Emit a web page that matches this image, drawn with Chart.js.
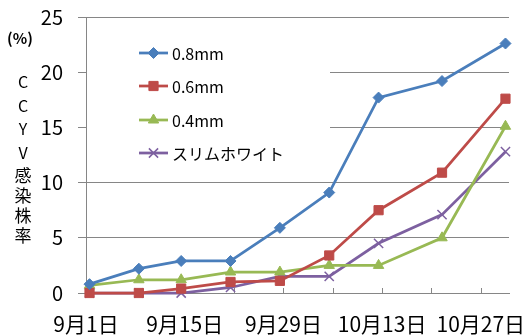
<!DOCTYPE html>
<html>
<head>
<meta charset="utf-8">
<script src="https://cdn.jsdelivr.net/npm/chart.js@4/dist/chart.umd.min.js"></script>
<style>
  html, body { margin: 0; padding: 0; background: #fff; }
  #wrap { width: 527px; height: 335px; }
</style>
</head>
<body>
<div id="wrap"><canvas id="c" width="527" height="335"></canvas></div>
<script>
// Survey dates (month-day) and CCYV infection rate (%) per film type
const surveyDates = ['09-01', '09-08', '09-14', '09-21', '09-28', '10-05', '10-12', '10-21', '10-30'];
const seriesNames = ['0.8mm', '0.6mm', '0.4mm', 'スリムホワイト'];
const rate08   = [0.8, 2.2, 2.9, 2.9, 5.9, 9.1, 17.7, 19.2, 22.6];
const rate06   = [0, 0, 0.4, 1.0, 1.1, 3.4, 7.5, 10.9, 17.6];
const rate04   = [0.7, 1.2, 1.2, 1.9, 1.9, 2.5, 2.5, 5.0, 15.1];
const rateSlim = [0, 0, 0, 0.5, 1.5, 1.5, 4.5, 7.1, 12.8];
const xTickLabels = ['9月1日', '9月15日', '9月29日', '10月13日', '10月27日'];
const yTickValues = [0, 5, 10, 15, 20, 25];
const yTitleTop = '(%)';
const yTitleChars = ['C', 'C', 'Y', 'V', '感', '染', '株', '率'];

const FONT = '"Noto Sans CJK JP", "Noto Sans", sans-serif';
const GRID = '#868686';

// days since 9/1; each date sits in the middle of its one-day slot
function dayPos(md) {
  const [m, d] = md.split('-').map(Number);
  return (Date.UTC(2000, m - 1, d) - Date.UTC(2000, 8, 1)) / 86400000 + 0.5;
}
const xs = surveyDates.map(dayPos);
const pts = vals => vals.map((v, i) => ({ x: xs[i], y: v }));

const styles = [
  { color: '#4A7EBB', pointStyle: 'rectRot', radius: 5.5 },
  { color: '#BE4B48', pointStyle: 'rect', radius: 6.5 },
  { color: '#98B954', pointStyle: 'triangle', radius: 6 },
  { color: '#7D60A0', pointStyle: 'crossRot', radius: 6.5 }
];
const seriesValues = [rate08, rate06, rate04, rateSlim];

const datasets = seriesValues.map((vals, i) => ({
  label: seriesNames[i],
  data: pts(vals),
  borderColor: styles[i].color,
  backgroundColor: styles[i].color,
  pointBackgroundColor: styles[i].color,
  pointBorderColor: styles[i].color,
  pointStyle: styles[i].pointStyle,
  pointRadius: styles[i].radius,
  pointHoverRadius: styles[i].radius,
  pointBorderWidth: styles[i].pointStyle === 'crossRot' ? 1.5 : 1,
  borderWidth: 2.75,
  tension: 0,
  clip: false
}));

function drawMarker(ctx, style, x, y) {
  ctx.save();
  ctx.fillStyle = style.color;
  ctx.strokeStyle = style.color;
  ctx.lineWidth = style.pointStyle === 'crossRot' ? 1.5 : 1;
  if (Chart.helpers && Chart.helpers.drawPoint) {
    Chart.helpers.drawPoint(ctx, { pointStyle: style.pointStyle, radius: style.radius, borderWidth: ctx.lineWidth, rotation: 0 }, x, y);
  }
  ctx.restore();
}

// Legend box inside the plot area, plus inner tick marks on the date axis
const insideLegend = {
  id: 'insideLegend',
  beforeDatasetsDraw(chart) {
    const ctx = chart.ctx;
    const xScale = chart.scales.x;
    const area = chart.chartArea;
    ctx.save();
    ctx.strokeStyle = GRID;
    ctx.lineWidth = 1;
    xScale.ticks.forEach(t => {
      const px = Math.round(xScale.getPixelForValue(t.value)) + 0.5;
      ctx.beginPath();
      ctx.moveTo(px, area.bottom - 5);
      ctx.lineTo(px, area.bottom);
      ctx.stroke();
    });
    ctx.fillStyle = '#fff';
    ctx.fillRect(87, 25, 243, 146);
    const rowY = [53, 86, 120, 153];
    styles.forEach((s, i) => {
      const y = rowY[i];
      ctx.strokeStyle = s.color;
      ctx.lineWidth = 2.75;
      ctx.beginPath();
      ctx.moveTo(139, y);
      ctx.lineTo(168, y);
      ctx.stroke();
      drawMarker(ctx, s, 153.5, y);
      ctx.fillStyle = '#000';
      ctx.font = '16px ' + FONT;
      ctx.textAlign = 'left';
      ctx.textBaseline = 'middle';
      ctx.fillText(seriesNames[i], 172, y + 1);
    });
    ctx.restore();
  },
  afterDraw(chart) {
    const ctx = chart.ctx;
    ctx.save();
    ctx.fillStyle = '#000';
    ctx.textAlign = 'center';
    ctx.textBaseline = 'middle';
    ctx.font = 'bold 15px ' + FONT;
    ctx.fillText(yTitleTop, 20, 38);
    let y = 82;
    yTitleChars.forEach((ch, i) => {
      const cjk = ch.charCodeAt(0) > 255;
      if (i > 0) y += cjk && yTitleChars[i - 1].charCodeAt(0) > 255 ? 20 : 23.5;
      ctx.font = (cjk ? '17px ' : '16px ') + FONT;
      ctx.fillText(ch, 23, y);
    });
    ctx.restore();
  }
};

Chart.defaults.font.family = FONT;
Chart.defaults.color = '#000';

new Chart(document.getElementById('c'), {
  type: 'line',
  data: { datasets },
  plugins: [insideLegend],
  options: {
    responsive: false,
    animation: false,
    events: [],
    layout: { padding: { left: 0, right: 18, top: 17, bottom: 0 } },
    plugins: { legend: { display: false }, tooltip: { enabled: false } },
    scales: {
      x: {
        type: 'linear',
        min: 0,
        max: 60,
        afterBuildTicks(scale) {
          const ticks = [];
          for (let v = 0; v <= 56; v += 7) ticks.push({ value: v });
          scale.ticks = ticks;
        },
        afterFit(scale) {
          scale.height = 42;
          scale.paddingLeft = 0;
          scale.paddingRight = 0;
        },
        grid: { display: false },
        border: { display: true, color: GRID, width: 1 },
        ticks: {
          autoSkip: false,
          maxRotation: 0,
          padding: 10,
          font: { size: 21 },
          callback: v => (v % 14 === 0 ? xTickLabels[v / 14] : '')
        }
      },
      y: {
        min: 0,
        max: 25,
        afterBuildTicks(scale) {
          scale.ticks = yTickValues.map(v => ({ value: v }));
        },
        afterFit(scale) {
          scale.width = 86;
          scale.paddingTop = 0;
          scale.paddingBottom = 0;
        },
        grid: { color: GRID, lineWidth: 1, tickLength: 8, drawTicks: true },
        border: { display: true, color: GRID, width: 1 },
        ticks: { padding: 15, font: { size: 20 } }
      }
    }
  }
});
</script>
</body>
</html>
